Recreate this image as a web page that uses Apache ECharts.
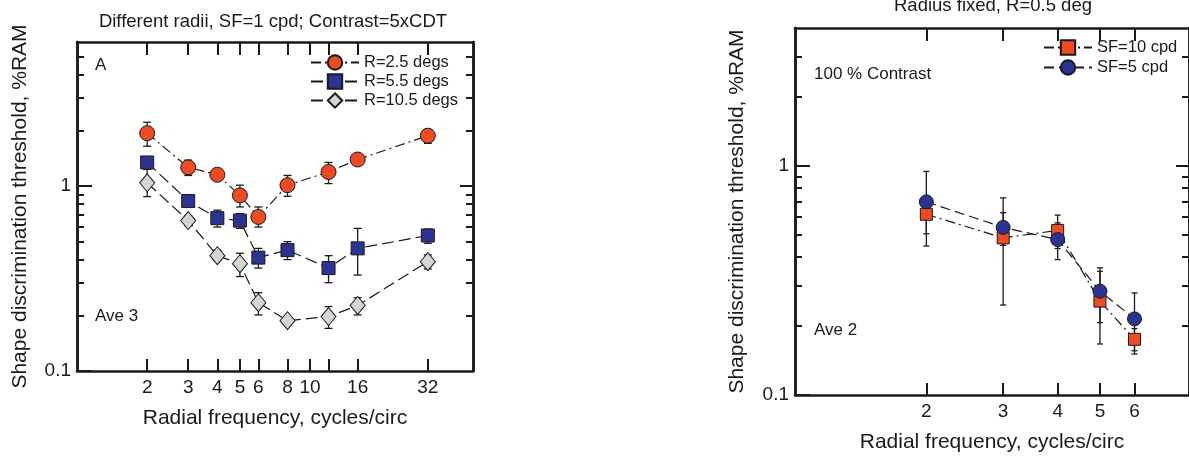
<!DOCTYPE html>
<html>
<head>
<meta charset="utf-8">
<script src="https://cdn.jsdelivr.net/npm/echarts@6/dist/echarts.min.js"></script>
<style>
  html, body { margin: 0; padding: 0; background: #fff; }
  #chart { width: 1189px; height: 458px; }
</style>
</head>
<body>
<div id="chart"></div>
<script>
// panel A: different radii, SF=1 cpd
const rfA = [2, 3, 4, 5, 6, 8, 12, 16, 32];
const r25 = [1.93, 1.26, 1.15, 0.89, 0.68, 1.01, 1.19, 1.39, 1.87];
const r25Lo = [1.64, 1.14, 1.08, 0.77, 0.60, 0.88, 1.03, 1.31, 1.70];
const r25Hi = [2.21, 1.38, 1.22, 1.01, 0.77, 1.14, 1.34, 1.47, 2.02];
const r55 = [1.34, 0.83, 0.67, 0.65, 0.41, 0.45, 0.36, 0.46, 0.54];
const r55Lo = [1.26, 0.78, 0.60, 0.59, 0.36, 0.40, 0.30, 0.33, 0.49];
const r55Hi = [1.42, 0.88, 0.74, 0.71, 0.46, 0.50, 0.42, 0.59, 0.585];
const r105 = [1.04, 0.65, 0.42, 0.38, 0.234, 0.187, 0.197, 0.226, 0.39];
const r105Lo = [0.876, 0.61, 0.40, 0.324, 0.201, 0.18, 0.170, 0.201, 0.356];
const r105Hi = [1.23, 0.69, 0.45, 0.433, 0.265, 0.195, 0.223, 0.249, 0.424];

// panel B: radius fixed, R=0.5 deg
const rfB = [2, 3, 4, 5, 6];
const sf10 = [0.615, 0.485, 0.523, 0.257, 0.175];
const sf10Lo = [0.506, 0.247, 0.436, 0.167, 0.156];
const sf10Hi = [0.725, 0.725, 0.61, 0.359, 0.195];
const sf5 = [0.697, 0.539, 0.477, 0.284, 0.215];
const sf5Lo = [0.447, 0.45, 0.39, 0.207, 0.151];
const sf5Hi = [0.946, 0.625, 0.564, 0.347, 0.279];

// ticks
const xTicksA = [2, 3, 4, 5, 6, 8, 10, 12, 16, 32];
const xLabelsA = [2, 3, 4, 5, 6, 8, 10, 16, 32];
const xTicksB = [2, 3, 4, 5, 6];
const yMajor = [0.1, 1];
const yMinorA = [0.2, 0.3, 0.4, 0.5, 0.6, 0.7, 0.8, 0.9, 2, 3, 4, 5];
const yMinorB = [0.2, 0.3, 0.4, 0.5, 0.6, 0.7, 0.8, 0.9, 2, 3];

const FONT = '"Liberation Sans", Arial, Helvetica, sans-serif';
const INK = '#1a1a1a';
const RED = '#EF4B23';
const BLUE = '#2B3492';
const GRAY = '#D5D5D5';

const chart = echarts.init(document.getElementById('chart'));

function xAxis(grid, min, max, ticks, labels, pos, len, name) {
  return {
    type: 'log', logBase: 10, gridIndex: grid, min: min, max: max, position: pos,
    name: name || '', nameLocation: 'middle', nameGap: 37,
    nameTextStyle: { fontSize: 21, color: INK, fontFamily: FONT },
    axisLine: { show: true, lineStyle: { color: INK, width: 2.5 } },
    axisTick: { show: true, inside: true, length: len, customValues: ticks, lineStyle: { color: INK, width: 2 } },
    axisLabel: labels ? { show: true, customValues: labels, margin: 7, fontSize: 19, color: INK, fontFamily: FONT } : { show: false },
    splitLine: { show: false },
    minorTick: { show: false }
  };
}

function yAxis(grid, max, ticks, labels, pos, len, name, nameGap) {
  return {
    type: 'log', logBase: 10, gridIndex: grid, min: 0.1, max: max, position: pos,
    name: name || '', nameLocation: 'middle', nameGap: nameGap || 0,
    nameTextStyle: { fontSize: 21, color: INK, fontFamily: FONT },
    axisLine: { show: true, lineStyle: { color: INK, width: 2.5 } },
    axisTick: { show: true, inside: true, length: len, customValues: ticks, lineStyle: { color: INK, width: 2 } },
    axisLabel: labels ? { show: true, customValues: labels, margin: 6, fontSize: 19, color: INK, fontFamily: FONT } : { show: false },
    splitLine: { show: false },
    minorTick: { show: false }
  };
}

function lineSeries(name, xs, ys, xi, yi, symbol, size, fill, dash) {
  return {
    type: 'line', name: name, xAxisIndex: xi, yAxisIndex: yi, z: 3,
    data: xs.map((x, i) => [x, ys[i]]),
    symbol: symbol, symbolSize: size, showAllSymbol: true,
    itemStyle: { color: fill, borderColor: INK, borderWidth: 1 },
    lineStyle: { color: INK, width: 1.2, type: dash },
    emphasis: { disabled: true }
  };
}

function errSeries(xs, lo, hi, xi, yi, cap) {
  return {
    type: 'custom', xAxisIndex: xi, yAxisIndex: yi, z: 1, silent: true,
    data: xs.map((x, i) => [x, lo[i], hi[i]]),
    renderItem: (params, api) => {
      const a = api.coord([api.value(0), api.value(1)]);
      const b = api.coord([api.value(0), api.value(2)]);
      const st = { stroke: INK, lineWidth: 1.3 };
      return {
        type: 'group',
        children: [
          { type: 'line', shape: { x1: a[0], y1: a[1], x2: b[0], y2: b[1] }, style: st },
          { type: 'line', shape: { x1: a[0] - cap, y1: a[1], x2: a[0] + cap, y2: a[1] }, style: st },
          { type: 'line', shape: { x1: b[0] - cap, y1: b[1], x2: b[0] + cap, y2: b[1] }, style: st }
        ]
      };
    }
  };
}

function label(text, x, y, size, align) {
  return {
    type: 'text', x: x, y: y, silent: true,
    style: { text: text, font: size + 'px ' + FONT, fill: INK, textAlign: align || 'left', textVerticalAlign: 'middle' }
  };
}

const dashDot = [10, 4, 2, 4];
const longDash = [12, 5];
const yName = 'Shape discrimination threshold, %RAM';
const xName = 'Radial frequency, cycles/circ';

chart.setOption({
  animation: false,
  grid: [
    { left: 77, top: 42, width: 396, height: 329 },
    { left: 795, top: 28, width: 396, height: 372 }
  ],
  xAxis: [
    xAxis(0, 1, 50, xTicksA, xLabelsA, 'bottom', 12, xName),
    xAxis(0, 1, 50, xTicksA, null, 'top', 13),
    xAxis(1, 1, 8, xTicksB, xTicksB, 'bottom', 12, xName),
    xAxis(1, 1, 8, xTicksB, null, 'top', 13)
  ],
  yAxis: [
    yAxis(0, 6, yMajor, yMajor, 'left', 15, yName, 46),
    yAxis(0, 6, yMinorA, null, 'left', 7),
    yAxis(0, 6, [1], null, 'right', 13),
    yAxis(0, 6, yMinorA, null, 'right', 7),
    yAxis(1, 4, yMajor, yMajor, 'left', 15, yName, 47),
    yAxis(1, 4, yMinorB, null, 'left', 7),
    yAxis(1, 4, [1], null, 'right', 13),
    yAxis(1, 4, yMinorB, null, 'right', 7)
  ],
  legend: [
    {
      data: ['R=2.5 degs', 'R=5.5 degs', 'R=10.5 degs'],
      orient: 'vertical', left: 310, top: 54, padding: 0,
      itemWidth: 48, itemHeight: 18, itemGap: 2, selectedMode: false,
      textStyle: { fontSize: 16.5, color: INK, fontFamily: FONT }
    },
    {
      data: ['SF=10 cpd', 'SF=5 cpd'],
      orient: 'vertical', left: 1043, top: 39, padding: 0,
      itemWidth: 48, itemHeight: 18, itemGap: 3, selectedMode: false,
      textStyle: { fontSize: 16.5, color: INK, fontFamily: FONT }
    }
  ],
  graphic: [
    label('Different radii, SF=1 cpd; Contrast=5xCDT', 273, 22, 18.5, 'center'),
    label('Radius fixed, R=0.5 deg', 993, 6, 18.5, 'center'),
    label('A', 95, 65, 17),
    label('Ave 3', 95, 316, 17),
    label('100 % Contrast', 814, 74, 17),
    label('Ave 2', 814, 330, 17)
  ],
  series: [
    errSeries(rfA, r25Lo, r25Hi, 0, 0, 4),
    errSeries(rfA, r55Lo, r55Hi, 0, 0, 4),
    errSeries(rfA, r105Lo, r105Hi, 0, 0, 4),
    lineSeries('R=2.5 degs', rfA, r25, 0, 0, 'circle', 15, RED, dashDot),
    lineSeries('R=5.5 degs', rfA, r55, 0, 0, 'rect', 13, BLUE, longDash),
    lineSeries('R=10.5 degs', rfA, r105, 0, 0, 'diamond', [15, 18], GRAY, longDash),
    errSeries(rfB, sf10Lo, sf10Hi, 2, 4, 3),
    errSeries(rfB, sf5Lo, sf5Hi, 2, 4, 3),
    lineSeries('SF=10 cpd', rfB, sf10, 2, 4, 'rect', 12, RED, dashDot),
    lineSeries('SF=5 cpd', rfB, sf5, 2, 4, 'circle', 14, BLUE, [10, 5])
  ]
});
</script>
</body>
</html>
